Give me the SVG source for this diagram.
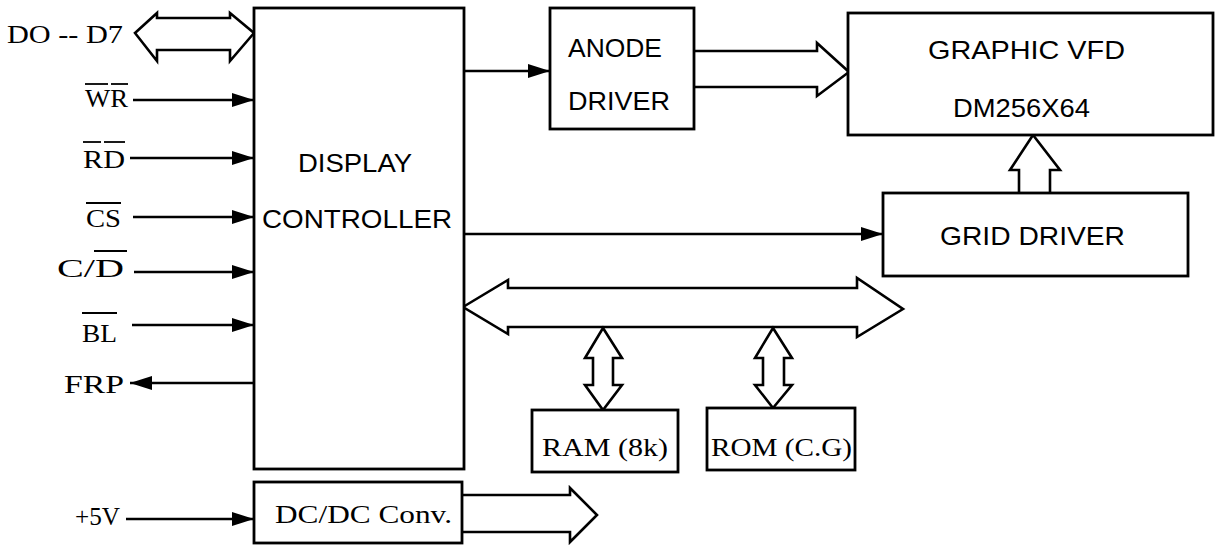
<svg xmlns="http://www.w3.org/2000/svg" width="1217" height="546" viewBox="0 0 1217 546">
<style>
.box{fill:#fff;stroke:#000;stroke-width:2.8}
.fat{fill:#fff;stroke:#000;stroke-width:2.6;stroke-linejoin:miter}
.ln{stroke:#000;stroke-width:2.4;fill:none}
.ov{stroke:#000;stroke-width:1.8}
.sans{font-family:"Liberation Sans",Arial,sans-serif;font-size:26px;fill:#000}
.serif{font-family:"Liberation Serif","Times New Roman",serif;font-size:25px;fill:#000}
</style>
<defs>
<marker id="ah" markerUnits="userSpaceOnUse" markerWidth="24" markerHeight="14" refX="22" refY="7" orient="auto">
<path d="M0,0 L22,7 L0,14 Z" fill="#000"/>
</marker>
</defs>
<rect width="1217" height="546" fill="#fff"/>

<g id="connectors">
<polygon class="fat" points="135,33 157,13 157,18 230,18 230,13 254,33 230,61 230,50 157,50 157,61"/>
<line class="ln" x1="133" y1="100" x2="254" y2="100" marker-end="url(#ah)"/>
<line class="ln" x1="130" y1="158" x2="254" y2="158" marker-end="url(#ah)"/>
<line class="ln" x1="133" y1="217" x2="254" y2="217" marker-end="url(#ah)"/>
<line class="ln" x1="134" y1="272" x2="254" y2="272" marker-end="url(#ah)"/>
<line class="ln" x1="132" y1="325" x2="254" y2="325" marker-end="url(#ah)"/>
<line class="ln" x1="254" y1="383" x2="130" y2="383" marker-end="url(#ah)"/>
<line class="ln" x1="126" y1="519" x2="254" y2="519" marker-end="url(#ah)"/>
<line class="ln" x1="464" y1="71" x2="550" y2="71" marker-end="url(#ah)"/>
<line class="ln" x1="464" y1="234" x2="883" y2="234" marker-end="url(#ah)"/>
<polyline class="fat" points="694,51 817,51 817,43 849,72 817,96 817,87 694,87"/>
<polyline class="fat" points="1019,193 1019,170 1010,170 1033,135 1060,170 1050,170 1050,193"/>
<polygon class="fat" points="463,307 508,280 508,288 857,288 857,278 903,309 857,337 857,327 508,327 508,334"/>
<polygon class="fat" points="603,328 622,358 613,358 613,385 622,385 603,410 585,385 593,385 593,358 585,358"/>
<polygon class="fat" points="773,328 792,358 784,358 784,385 792,385 773,408 755,385 763,385 763,358 755,358"/>
<polyline class="fat" points="463,495 570,495 570,488 597,515 570,542 570,532 463,532"/>
</g>

<g id="labels">
<text class="serif" x="7" y="43" textLength="116" lengthAdjust="spacingAndGlyphs">DO -- D7</text>
<text class="serif" x="85" y="107" textLength="43" lengthAdjust="spacingAndGlyphs">WR</text>
<line class="ov" x1="85" y1="84" x2="108" y2="84"/><line class="ov" x1="111" y1="84" x2="128" y2="84"/>
<text class="serif" x="83" y="168" textLength="42" lengthAdjust="spacingAndGlyphs">RD</text>
<line class="ov" x1="83" y1="142" x2="101" y2="142"/><line class="ov" x1="104" y1="142" x2="125" y2="142"/>
<text class="serif" x="86" y="227" textLength="35" lengthAdjust="spacingAndGlyphs">CS</text>
<line class="ov" x1="86" y1="203" x2="121" y2="203"/>
<text class="serif" x="57" y="277" textLength="67" lengthAdjust="spacingAndGlyphs">C/D</text>
<line class="ov" x1="94" y1="251" x2="127" y2="251"/>
<text class="serif" x="82" y="342" textLength="35" lengthAdjust="spacingAndGlyphs">BL</text>
<line class="ov" x1="82" y1="313" x2="117" y2="313"/>
<text class="serif" x="64" y="393" textLength="60" lengthAdjust="spacingAndGlyphs">FRP</text>
<text class="serif" x="75" y="525" textLength="45" lengthAdjust="spacingAndGlyphs">+5V</text>
</g>

<g id="controller">
<rect class="box" x="254" y="8" width="210" height="461"/>
<text class="sans" x="298" y="172" textLength="114" lengthAdjust="spacingAndGlyphs">DISPLAY</text>
<text class="sans" x="262" y="228" textLength="190" lengthAdjust="spacingAndGlyphs">CONTROLLER</text>
</g>

<g id="anode">
<rect class="box" x="550" y="8" width="144" height="121"/>
<text class="sans" x="568" y="57" textLength="94" lengthAdjust="spacingAndGlyphs">ANODE</text>
<text class="sans" x="568" y="110" textLength="102" lengthAdjust="spacingAndGlyphs">DRIVER</text>
</g>

<g id="vfd">
<rect class="box" x="848" y="13" width="365" height="122"/>
<text class="sans" x="928" y="59" textLength="197" lengthAdjust="spacingAndGlyphs">GRAPHIC VFD</text>
<text class="sans" x="953" y="117" textLength="137" lengthAdjust="spacingAndGlyphs">DM256X64</text>
</g>

<g id="grid">
<rect class="box" x="883" y="193" width="305" height="83"/>
<text class="sans" x="940" y="245" textLength="185" lengthAdjust="spacingAndGlyphs">GRID DRIVER</text>
</g>

<g id="ram">
<rect class="box" x="532" y="410" width="146" height="62"/>
<text class="serif" x="542" y="456" textLength="126" lengthAdjust="spacingAndGlyphs">RAM (8k)</text>
</g>

<g id="rom">
<rect class="box" x="707" y="408" width="148" height="62"/>
<text class="serif" x="711" y="456" textLength="141" lengthAdjust="spacingAndGlyphs">ROM (C.G)</text>
</g>

<g id="dcdc">
<rect class="box" x="254" y="482" width="208" height="61"/>
<text class="serif" x="275" y="523" textLength="177" lengthAdjust="spacingAndGlyphs">DC/DC Conv.</text>
</g>
</svg>
